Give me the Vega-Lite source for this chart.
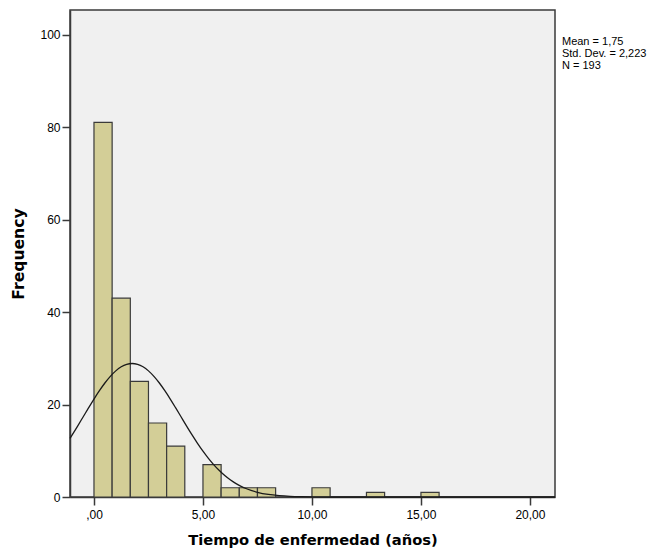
{
  "$schema": "https://vega.github.io/schema/vega-lite/v6.json",
  "autosize": "none",
  "width": 485,
  "height": 487,
  "padding": {"left": 70, "top": 10, "right": 110, "bottom": 55},
  "background": "white",
  "config": {
    "view": {"fill": "#F0F0F0", "stroke": "#3a3a3a", "strokeWidth": 1.5},
    "font": "Liberation Sans",
    "axis": {
      "grid": false,
      "domainColor": "#3a3a3a",
      "domainWidth": 1.5,
      "tickColor": "#3a3a3a",
      "tickWidth": 1.5,
      "tickSize": 8,
      "labelFont": "Liberation Sans",
      "labelFontSize": 12,
      "labelColor": "#000000",
      "titleFont": "DejaVu Sans",
      "titleFontSize": 15,
      "titleFontWeight": "bold",
      "titleColor": "#000000"
    }
  },
  "datasets": {
    "bins": [
      {"start": 0.0, "end": 0.8333, "count": 81},
      {"start": 0.8333, "end": 1.6667, "count": 43},
      {"start": 1.6667, "end": 2.5, "count": 25},
      {"start": 2.5, "end": 3.3333, "count": 16},
      {"start": 3.3333, "end": 4.1667, "count": 11},
      {"start": 5.0, "end": 5.8333, "count": 7},
      {"start": 5.8333, "end": 6.6667, "count": 2},
      {"start": 6.6667, "end": 7.5, "count": 2},
      {"start": 7.5, "end": 8.3333, "count": 2},
      {"start": 10.0, "end": 10.8333, "count": 2},
      {"start": 12.5, "end": 13.3333, "count": 1},
      {"start": 15.0, "end": 15.8333, "count": 1}
    ],
    "curve": [
      {"x": -1.1, "y": 12.69}, {"x": -0.75, "y": 15.34}, {"x": -0.5, "y": 17.30},
      {"x": -0.25, "y": 19.26}, {"x": 0.0, "y": 21.18}, {"x": 0.25, "y": 22.99},
      {"x": 0.5, "y": 24.65}, {"x": 0.75, "y": 26.09}, {"x": 1.0, "y": 27.27},
      {"x": 1.25, "y": 28.15}, {"x": 1.5, "y": 28.69}, {"x": 1.75, "y": 28.87},
      {"x": 2.0, "y": 28.69}, {"x": 2.25, "y": 28.15}, {"x": 2.5, "y": 27.27},
      {"x": 2.75, "y": 26.09}, {"x": 3.0, "y": 24.65}, {"x": 3.25, "y": 22.99},
      {"x": 3.5, "y": 21.18}, {"x": 3.75, "y": 19.26}, {"x": 4.0, "y": 17.30},
      {"x": 4.25, "y": 15.34}, {"x": 4.5, "y": 13.43}, {"x": 4.75, "y": 11.61},
      {"x": 5.0, "y": 9.91}, {"x": 5.25, "y": 8.36}, {"x": 5.5, "y": 6.96},
      {"x": 5.75, "y": 5.72}, {"x": 6.0, "y": 4.64}, {"x": 6.25, "y": 3.72},
      {"x": 6.5, "y": 2.94}, {"x": 6.75, "y": 2.30}, {"x": 7.0, "y": 1.78},
      {"x": 7.5, "y": 1.02}, {"x": 8.0, "y": 0.55}, {"x": 8.5, "y": 0.29},
      {"x": 9.0, "y": 0.14}, {"x": 9.5, "y": 0.066}, {"x": 10.0, "y": 0.03},
      {"x": 11.0, "y": 0.004}, {"x": 12.0, "y": 0.0}, {"x": 21.15, "y": 0.0}
    ],
    "stats": [
      {"x": 21.47, "y": 98.3, "label": "Mean = 1,75"},
      {"x": 21.47, "y": 95.7, "label": "Std. Dev. = 2,223"},
      {"x": 21.47, "y": 93.1, "label": "N = 193"}
    ]
  },
  "layer": [
    {
      "data": {"name": "bins"},
      "mark": {"type": "rect", "fill": "#D3CE97", "stroke": "#3a3a3a", "strokeWidth": 1.2},
      "encoding": {
        "x": {
          "field": "start", "type": "quantitative",
          "scale": {"domain": [-1.1, 21.15], "nice": false, "zero": false},
          "axis": {
            "title": "Tiempo de enfermedad (años)",
            "titleFontSize": 14.7,
            "values": [0, 5, 10, 15, 20],
            "labelExpr": "datum.value == 0 ? ',00' : replace(format(datum.value, '.2f'), '.', ',')",
            "labelPadding": 4,
            "titlePadding": 12
          }
        },
        "x2": {"field": "end"},
        "y": {
          "field": "count", "type": "quantitative",
          "scale": {"domain": [0, 105.3], "nice": false},
          "axis": {
            "title": "Frequency",
            "titleFontSize": 15.6,
            "values": [0, 20, 40, 60, 80, 100],
            "labelPadding": 2,
            "titlePadding": 13
          }
        },
        "y2": {"datum": 0}
      }
    },
    {
      "data": {"name": "curve"},
      "mark": {"type": "line", "color": "#1a1a1a", "strokeWidth": 1.3, "interpolate": "monotone"},
      "encoding": {
        "x": {"field": "x", "type": "quantitative"},
        "y": {"field": "y", "type": "quantitative"}
      }
    },
    {
      "data": {"name": "stats"},
      "mark": {"type": "text", "align": "left", "baseline": "middle", "fontSize": 11, "font": "Liberation Sans", "color": "#000000", "clip": false},
      "encoding": {
        "x": {"field": "x", "type": "quantitative"},
        "y": {"field": "y", "type": "quantitative"},
        "text": {"field": "label"}
      }
    }
  ]
}
